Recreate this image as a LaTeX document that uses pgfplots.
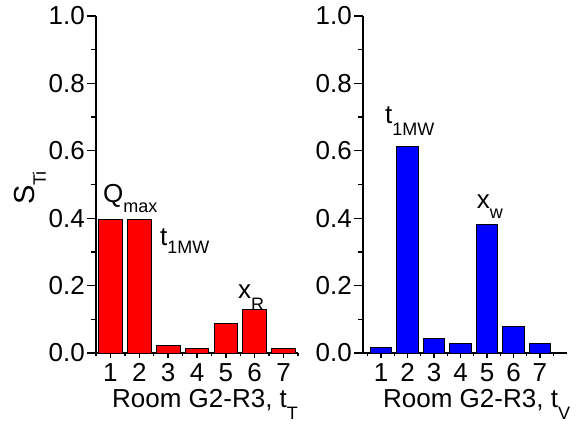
\documentclass[border=0pt]{standalone}
\usepackage{pgfplots}
\pgfplotsset{compat=1.18}
\usepackage{fontspec}
\setmainfont{Liberation Sans}
\newcommand{\sub}[2][10pt]{\raisebox{-#1}{\fontsize{18}{18}\selectfont #2}}
\tikzset{ann/.style={anchor=base west, inner sep=0pt, font=\fontsize{26}{26}\selectfont}}
\pgfplotsset{
  myax/.style={
    scale only axis, height=337pt, anchor=south west,
    ymin=0, ymax=1,
    axis x line*=bottom, axis y line*=left,
    axis line style={line width=1.6pt, black},
    tick align=outside,
    ytick={0,0.2,0.4,0.6,0.8,1}, minor ytick={0.1,0.3,0.5,0.7,0.9},
    xtick={1,2,3,4,5,6,7}, minor xtick={0.5,1.5,2.5,3.5,4.5,5.5,6.5,7.5},
    major tick length=9pt, minor tick length=5pt,
    tick style={line width=1.3pt, black},
    xtick style={/pgfplots/major tick length=5.5pt, /pgfplots/minor tick length=3.5pt},
    tick label style={font=\fontsize{26}{26}\selectfont, inner sep=2pt},
    xticklabel style={yshift=1pt},
    /pgf/number format/assume math mode=true,
    y tick label style={/pgf/number format/fixed, /pgf/number format/fixed zerofill, /pgf/number format/precision=1},
    xlabel style={font=\fontsize{26}{26}\selectfont, anchor=base west, inner sep=0pt},
    clip=false,
  }
}
\begin{document}
\begin{tikzpicture}
\useasboundingbox (0,0) rectangle (578pt,425pt);
\begin{axis}[myax, at={(96pt,72pt)}, width=202pt, xmin=0.5, xmax=7.5,
  ylabel={S\sub[11pt]{Ti}},
  ylabel style={font=\fontsize{29}{29}\selectfont, at={(axis description cs:-0.302,0.49)}, anchor=base, inner sep=0pt},
  xlabel={Room G2-R3, t\sub[12pt]{T}},
  xlabel style={at={(axis description cs:0.079,-0.163)}},
]
\addplot[ybar, bar width=0.82, fill=red, draw=black, line width=0.8pt]
  coordinates {(1,0.396) (2,0.395) (3,0.022) (4,0.014) (5,0.087) (6,0.130) (7,0.013)};
\node[ann] at (axis cs:0.743,0.448) {Q\sub[10pt]{max}};
\node[ann] at (axis cs:2.718,0.320) {t\sub[8pt]{1MW}};
\node[ann] at (axis cs:5.42,0.163) {x\sub[12pt]{R}};
\end{axis}
\begin{axis}[myax, at={(363pt,72pt)}, width=204pt, xmin=0.32, xmax=8.02,
  xlabel={Room G2-R3, t\sub[12pt]{V}},
  xlabel style={at={(axis description cs:0.098,-0.163)}},
]
\addplot[ybar, bar width=0.82, fill=blue, draw=black, line width=0.8pt]
  coordinates {(1,0.016) (2,0.612) (3,0.042) (4,0.027) (5,0.382) (6,0.078) (7,0.029)};
\node[ann] at (axis cs:1.15,0.680) {t\sub[12pt]{1MW}};
\node[ann] at (axis cs:4.61,0.430) {x\sub[10pt]{w}};
\end{axis}
\end{tikzpicture}
\end{document}
